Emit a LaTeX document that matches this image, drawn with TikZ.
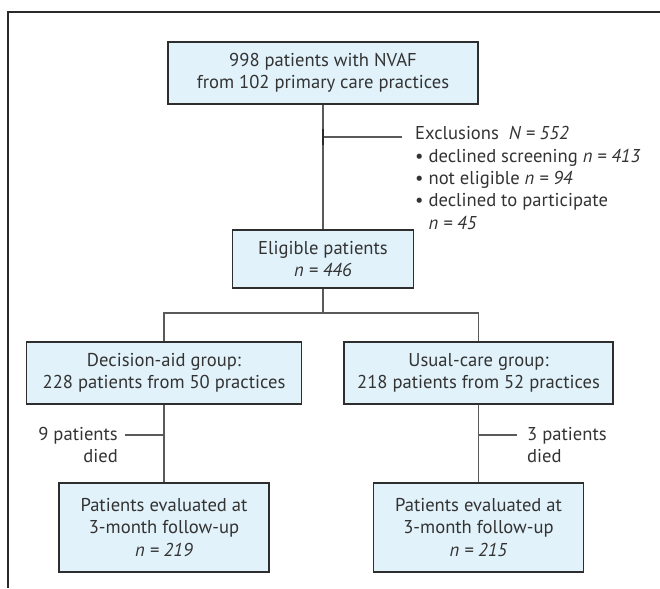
\documentclass[tikz,border=0pt]{standalone}
\usepackage{fontspec}
\setmainfont{PT Sans}
\usetikzlibrary{calc}
\definecolor{boxfill}{HTML}{E1F2FA}
\definecolor{boxdraw}{HTML}{2E2E2E}
\definecolor{linecol}{HTML}{5A5A5A}
\definecolor{framecol}{HTML}{2A2A2A}
\definecolor{txt}{HTML}{333333}
\tikzset{
  flowbox/.style={draw=boxdraw, fill=boxfill, line width=1.5pt, align=center,
    font=\fontsize{18.6}{22.5}\selectfont, text=txt, inner sep=0pt},
  conn/.style={draw=linecol, line width=1.3pt},
  lbl/.style={font=\fontsize{18.6}{22.3}\selectfont, text=txt, inner sep=0pt},
  framel/.style={draw=framecol, line width=2pt}
}
\begin{document}
\begin{tikzpicture}[x=1pt,y=-1pt]
\useasboundingbox (0,0) rectangle (660,588);
\draw[framel] (660,12.5) -- (8,12.5) -- (8,588);

\node[flowbox, minimum width=310pt, minimum height=62pt] (top) at (323,73)
  {998 patients with NVAF\\from 102 primary care practices};
\node[flowbox, minimum width=181pt, minimum height=58pt] (elig) at (323,259)
  {Eligible patients\\\textit{n = 446}};
\node[flowbox, minimum width=275pt, minimum height=62pt] (dec) at (164,373)
  {Decision-aid group:\\228 patients from 50 practices};
\node[flowbox, minimum width=269pt, minimum height=62pt] (usu) at (478.5,373)
  {Usual-care group:\\218 patients from 52 practices};
\node[flowbox, minimum width=210pt, minimum height=89pt] (ev1) at (164,527.5)
  {Patients evaluated at\\3-month follow-up\\\textit{n = 219}};
\node[flowbox, minimum width=210pt, minimum height=89pt] (ev2) at (478.5,527.5)
  {Patients evaluated at\\3-month follow-up\\\textit{n = 215}};

% main flow
\draw[conn] (top.south) -- (elig.north);
\coordinate (ex) at (323,137);
\coordinate (exr) at (402,137);
\coordinate (tickA) at (323,129);
\coordinate (tickB) at (323,145);
\draw[conn] (ex) -- (exr);
\draw[draw=framecol, line width=2pt] (tickA) -- (tickB);
\node[lbl, anchor=west, align=left] (excl) at (415,178)
  {Exclusions\ \ \textit{N = 552}\\
   \textbullet\ declined screening \textit{n = 413}\\
   \textbullet\ not eligible \textit{n = 94}\\
   \textbullet\ declined to participate\\
   \phantom{\textbullet\ }\textit{n = 45}};

% split
\coordinate (br) at (323,313);
\draw[conn] (elig.south) -- (br);
\draw[conn] (dec.north) |- (br) -| (usu.north);

% follow-up
\draw[conn] (dec.south) -- (ev1.north);
\draw[conn] (usu.south) -- (ev2.north);
\coordinate (d1) at (164,435);
\coordinate (d1l) at (125,435);
\coordinate (d2) at (478.5,435);
\coordinate (d2r) at (517,435);
\draw[conn] (d1) -- (d1l);
\draw[conn] (d2) -- (d2r);
\node[lbl, anchor=east, align=right] (died1) at (118,445) {9 patients\\died};
\node[lbl, anchor=west, align=left] (died2) at (527,445) {3 patients\\died};
\end{tikzpicture}
\end{document}
